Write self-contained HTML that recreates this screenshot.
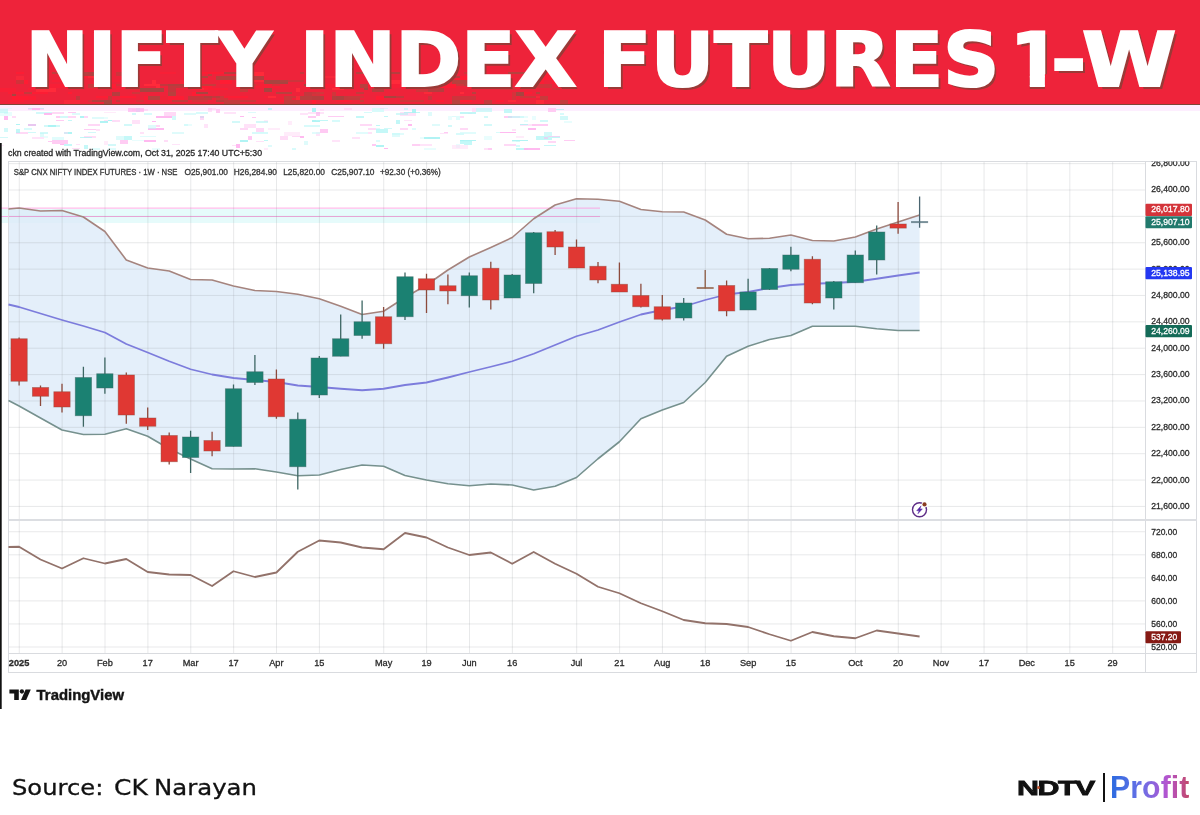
<!DOCTYPE html>
<html lang="en"><head><meta charset="utf-8"><title>NIFTY INDEX FUTURES 1-W</title>
<style>
html,body{margin:0;padding:0;background:#fff}
body{width:1200px;height:815px;position:relative;overflow:hidden;font-family:"Liberation Sans",sans-serif}
#banner{position:absolute;left:0;top:0;width:1200px;height:103.8px;background:#ee233a;border-bottom:1.6px solid #7e4436;box-shadow:0 6px 0 #fdeefe}
#title{position:absolute;left:0;top:0;width:1200px;height:104px;color:#fff;font-family:"DejaVu Sans","Liberation Sans",sans-serif;font-weight:bold;font-size:74px;line-height:74px;white-space:nowrap;text-shadow:2.8px 3px 0 #9a3a37}
#title span{position:absolute;top:23.3px;transform-origin:0 0;-webkit-text-stroke:2.2px #fff}
#w1{left:25.5px;transform:scaleX(1.005)}#w2{left:299.7px;transform:scaleX(1.068)}#w3{left:597.5px;transform:scaleX(1.05)}#w4{left:1010.1px;clip-path:polygon(0 0,37px 0,37px 51px,34.8px 51px,34.8px 100%,19.7px 100%,19.7px 51.5px,0 51.5px)}#w5{left:1051px;transform:scaleX(1.15)}#w6{left:1081.5px;transform:scaleX(1.155)}
#source{position:absolute;left:0;top:775.3px;width:300px;height:30px;font-family:"DejaVu Sans","Liberation Sans",sans-serif;font-size:21.3px;line-height:26px;color:#111;white-space:pre;-webkit-text-stroke:.3px #111}
#source span{position:absolute;top:0;transform-origin:0 0}
#s1{left:11.5px;transform:scaleX(1.137)}#s2{left:113.5px;transform:scaleX(1.17)}#s3{left:153.6px;transform:scaleX(1.145)}
#ndtv{position:absolute;left:1016.6px;top:775.7px;font-weight:bold;font-size:20.8px;line-height:24px;color:#111;transform-origin:0 0;transform:scaleX(1.46);letter-spacing:-1px;-webkit-text-stroke:.8px #111}
#dot{position:absolute;left:1037.2px;top:785.7px;width:3px;height:3px;border-radius:50%;background:#c4532c}
#sep{position:absolute;left:1102.5px;top:773px;width:2.4px;height:28.5px;background:#111}
#profit{position:absolute;left:1110.3px;top:770.4px;font-weight:bold;font-size:31.3px;line-height:36px;transform-origin:0 0;transform:scaleX(.965);background:linear-gradient(90deg,#2a6be0 0%,#6a70e6 40%,#b455d0 72%,#c2486a 100%);-webkit-background-clip:text;background-clip:text;color:transparent;letter-spacing:.1px}
</style></head><body>
<div id="banner"></div>
<svg width="1200" height="105" style="position:absolute;left:0;top:0" shape-rendering="crispEdges"><rect x="460" y="100" width="12" height="2" fill="#ff1c33" opacity="1"/><rect x="484" y="80" width="4" height="4" fill="#ff2a3a" opacity="0.6"/><rect x="92" y="72" width="16" height="4" fill="#b8403e" opacity="1"/><rect x="160" y="72" width="16" height="2" fill="#ff1c33" opacity="0.6"/><rect x="192" y="84" width="16" height="2" fill="#b8403e" opacity="0.8"/><rect x="448" y="84" width="16" height="2" fill="#c83a3c" opacity="0.8"/><rect x="508" y="72" width="24" height="2" fill="#b8403e" opacity="1"/><rect x="284" y="96" width="16" height="2" fill="#c83a3c" opacity="0.8"/><rect x="320" y="84" width="16" height="4" fill="#ff1c33" opacity="0.6"/><rect x="108" y="96" width="4" height="4" fill="#b8403e" opacity="0.6"/><rect x="16" y="72" width="8" height="2" fill="#ff1c33" opacity="0.8"/><rect x="384" y="96" width="12" height="2" fill="#a84440" opacity="1"/><rect x="200" y="88" width="8" height="2" fill="#ff2a3a" opacity="0.8"/><rect x="12" y="96" width="4" height="2" fill="#ff1c33" opacity="1"/><rect x="100" y="72" width="4" height="4" fill="#b8403e" opacity="0.6"/><rect x="192" y="100" width="16" height="2" fill="#c83a3c" opacity="0.6"/><rect x="428" y="96" width="4" height="4" fill="#b8403e" opacity="0.6"/><rect x="0" y="88" width="16" height="4" fill="#ff1c33" opacity="0.6"/><rect x="188" y="96" width="16" height="2" fill="#ff1c33" opacity="0.6"/><rect x="216" y="100" width="8" height="2" fill="#a84440" opacity="0.8"/><rect x="300" y="96" width="4" height="2" fill="#ff1c33" opacity="0.6"/><rect x="248" y="72" width="16" height="4" fill="#ff2a3a" opacity="1"/><rect x="464" y="80" width="16" height="4" fill="#a84440" opacity="0.6"/><rect x="392" y="80" width="24" height="2" fill="#ff2a3a" opacity="0.6"/><rect x="252" y="84" width="8" height="2" fill="#c83a3c" opacity="0.8"/><rect x="492" y="76" width="12" height="2" fill="#ff1c33" opacity="0.6"/><rect x="36" y="88" width="8" height="4" fill="#ff2a3a" opacity="0.8"/><rect x="500" y="88" width="16" height="2" fill="#c83a3c" opacity="0.6"/><rect x="128" y="84" width="12" height="2" fill="#ff2a3a" opacity="0.6"/><rect x="208" y="72" width="4" height="4" fill="#b8403e" opacity="0.8"/><rect x="252" y="72" width="4" height="2" fill="#ff2a3a" opacity="0.8"/><rect x="540" y="80" width="4" height="4" fill="#ff1c33" opacity="0.8"/><rect x="336" y="80" width="16" height="2" fill="#ff1c33" opacity="0.8"/><rect x="364" y="88" width="4" height="2" fill="#a84440" opacity="1"/><rect x="76" y="100" width="4" height="4" fill="#ff2a3a" opacity="0.6"/><rect x="72" y="76" width="12" height="4" fill="#c83a3c" opacity="0.6"/><rect x="132" y="92" width="8" height="2" fill="#c83a3c" opacity="0.8"/><rect x="76" y="96" width="4" height="4" fill="#a84440" opacity="0.6"/><rect x="388" y="96" width="16" height="2" fill="#a84440" opacity="0.6"/><rect x="80" y="76" width="24" height="2" fill="#ff2a3a" opacity="0.8"/><rect x="336" y="96" width="24" height="4" fill="#b8403e" opacity="0.8"/><rect x="552" y="76" width="16" height="2" fill="#ff2a3a" opacity="1"/><rect x="88" y="100" width="4" height="2" fill="#c83a3c" opacity="0.6"/><rect x="508" y="100" width="8" height="2" fill="#ff2a3a" opacity="0.8"/><rect x="144" y="84" width="16" height="2" fill="#ff2a3a" opacity="1"/><rect x="452" y="100" width="8" height="4" fill="#b8403e" opacity="1"/><rect x="256" y="84" width="24" height="4" fill="#ff1c33" opacity="0.6"/><rect x="392" y="84" width="16" height="4" fill="#ff1c33" opacity="0.6"/><rect x="136" y="100" width="8" height="2" fill="#c83a3c" opacity="0.6"/><rect x="280" y="80" width="4" height="4" fill="#b8403e" opacity="0.8"/><rect x="216" y="96" width="12" height="4" fill="#c83a3c" opacity="0.8"/><rect x="460" y="92" width="4" height="2" fill="#ff2a3a" opacity="1"/><rect x="40" y="88" width="16" height="4" fill="#ff2a3a" opacity="1"/><rect x="16" y="80" width="12" height="4" fill="#ff1c33" opacity="0.6"/><rect x="272" y="84" width="8" height="2" fill="#c83a3c" opacity="0.6"/><rect x="456" y="76" width="24" height="4" fill="#ff1c33" opacity="1"/><rect x="200" y="84" width="12" height="4" fill="#ff1c33" opacity="1"/><rect x="8" y="100" width="16" height="2" fill="#ff1c33" opacity="0.6"/><rect x="276" y="92" width="16" height="2" fill="#b8403e" opacity="1"/><rect x="228" y="76" width="12" height="4" fill="#ff1c33" opacity="0.8"/><rect x="464" y="84" width="24" height="2" fill="#b8403e" opacity="1"/><rect x="512" y="92" width="12" height="4" fill="#c83a3c" opacity="0.6"/><rect x="100" y="76" width="8" height="2" fill="#b8403e" opacity="0.6"/><rect x="316" y="92" width="8" height="2" fill="#ff2a3a" opacity="1"/><rect x="84" y="72" width="12" height="4" fill="#a84440" opacity="0.8"/><rect x="280" y="100" width="4" height="2" fill="#ff1c33" opacity="0.8"/><rect x="32" y="80" width="16" height="4" fill="#c83a3c" opacity="0.6"/><rect x="480" y="80" width="16" height="4" fill="#b8403e" opacity="1"/><rect x="88" y="84" width="12" height="4" fill="#c83a3c" opacity="1"/><rect x="168" y="88" width="8" height="4" fill="#a84440" opacity="0.6"/><rect x="308" y="80" width="16" height="4" fill="#a84440" opacity="0.8"/><rect x="204" y="96" width="16" height="2" fill="#a84440" opacity="0.6"/><rect x="384" y="72" width="16" height="2" fill="#a84440" opacity="0.8"/><rect x="556" y="76" width="12" height="2" fill="#c83a3c" opacity="0.6"/><rect x="64" y="100" width="12" height="4" fill="#ff2a3a" opacity="0.6"/><rect x="484" y="100" width="8" height="4" fill="#b8403e" opacity="0.8"/><rect x="536" y="92" width="4" height="2" fill="#b8403e" opacity="1"/><rect x="28" y="88" width="8" height="2" fill="#ff1c33" opacity="0.6"/><rect x="156" y="84" width="4" height="4" fill="#ff2a3a" opacity="1"/><rect x="360" y="84" width="16" height="4" fill="#ff1c33" opacity="0.8"/><rect x="124" y="88" width="24" height="2" fill="#c83a3c" opacity="1"/><rect x="444" y="72" width="12" height="4" fill="#a84440" opacity="1"/><rect x="160" y="84" width="24" height="2" fill="#a84440" opacity="0.6"/><rect x="552" y="80" width="8" height="4" fill="#ff1c33" opacity="0.8"/><rect x="320" y="84" width="8" height="2" fill="#ff1c33" opacity="0.6"/><rect x="244" y="80" width="24" height="2" fill="#ff2a3a" opacity="0.8"/><rect x="96" y="96" width="12" height="2" fill="#ff1c33" opacity="0.8"/><rect x="16" y="76" width="8" height="4" fill="#ff2a3a" opacity="0.6"/><rect x="516" y="92" width="16" height="2" fill="#ff1c33" opacity="0.8"/><rect x="108" y="72" width="4" height="4" fill="#ff1c33" opacity="0.6"/><rect x="188" y="76" width="8" height="2" fill="#ff1c33" opacity="0.8"/><rect x="96" y="72" width="8" height="4" fill="#ff1c33" opacity="0.6"/><rect x="332" y="96" width="12" height="4" fill="#a84440" opacity="0.8"/><rect x="440" y="84" width="16" height="4" fill="#ff1c33" opacity="1"/><rect x="40" y="84" width="8" height="4" fill="#b8403e" opacity="0.8"/><rect x="376" y="96" width="8" height="2" fill="#ff1c33" opacity="1"/><rect x="12" y="92" width="4" height="4" fill="#a84440" opacity="1"/><rect x="192" y="92" width="8" height="4" fill="#ff1c33" opacity="1"/><rect x="160" y="96" width="8" height="4" fill="#a84440" opacity="1"/><rect x="376" y="96" width="8" height="4" fill="#ff1c33" opacity="1"/><rect x="188" y="76" width="8" height="4" fill="#b8403e" opacity="0.6"/><rect x="8" y="92" width="24" height="2" fill="#ff1c33" opacity="0.8"/><rect x="304" y="92" width="8" height="4" fill="#a84440" opacity="0.6"/><rect x="544" y="76" width="12" height="4" fill="#c83a3c" opacity="0.6"/><rect x="120" y="96" width="16" height="2" fill="#ff1c33" opacity="1"/><rect x="108" y="84" width="8" height="4" fill="#b8403e" opacity="1"/><rect x="48" y="84" width="24" height="4" fill="#ff1c33" opacity="0.6"/><rect x="264" y="88" width="8" height="4" fill="#a84440" opacity="1"/><rect x="520" y="96" width="16" height="2" fill="#c83a3c" opacity="0.8"/><rect x="76" y="72" width="12" height="2" fill="#b8403e" opacity="0.8"/><rect x="172" y="100" width="16" height="2" fill="#b8403e" opacity="0.8"/><rect x="428" y="88" width="16" height="4" fill="#a84440" opacity="0.8"/><rect x="372" y="88" width="12" height="4" fill="#a84440" opacity="0.8"/><rect x="300" y="72" width="4" height="2" fill="#a84440" opacity="0.6"/><rect x="160" y="96" width="24" height="4" fill="#ff1c33" opacity="0.8"/><rect x="404" y="72" width="16" height="4" fill="#ff1c33" opacity="0.6"/><rect x="436" y="100" width="8" height="2" fill="#ff1c33" opacity="1"/><rect x="100" y="100" width="8" height="2" fill="#a84440" opacity="1"/><rect x="116" y="72" width="16" height="4" fill="#b8403e" opacity="0.6"/><rect x="208" y="72" width="8" height="2" fill="#ff1c33" opacity="0.8"/><rect x="452" y="80" width="24" height="4" fill="#b8403e" opacity="1"/><rect x="268" y="96" width="8" height="2" fill="#ff2a3a" opacity="1"/><rect x="128" y="84" width="12" height="2" fill="#a84440" opacity="0.8"/><rect x="516" y="92" width="8" height="4" fill="#a84440" opacity="1"/><rect x="192" y="88" width="8" height="2" fill="#ff1c33" opacity="1"/><rect x="200" y="72" width="24" height="2" fill="#ff1c33" opacity="0.8"/><rect x="264" y="96" width="4" height="2" fill="#ff1c33" opacity="0.6"/><rect x="552" y="88" width="4" height="2" fill="#c83a3c" opacity="0.6"/><rect x="560" y="84" width="15" height="4" fill="#b8403e" opacity="0.8"/><rect x="360" y="84" width="8" height="4" fill="#b8403e" opacity="1"/><rect x="136" y="76" width="4" height="4" fill="#a84440" opacity="0.6"/><rect x="452" y="96" width="24" height="4" fill="#b8403e" opacity="0.6"/><rect x="376" y="80" width="24" height="4" fill="#ff2a3a" opacity="1"/><rect x="188" y="96" width="24" height="4" fill="#a84440" opacity="0.6"/><rect x="472" y="92" width="4" height="2" fill="#b8403e" opacity="1"/><rect x="496" y="100" width="8" height="2" fill="#ff1c33" opacity="0.8"/><rect x="216" y="76" width="24" height="4" fill="#b8403e" opacity="1"/><rect x="332" y="88" width="8" height="2" fill="#ff2a3a" opacity="1"/><rect x="332" y="92" width="4" height="4" fill="#c83a3c" opacity="0.8"/><rect x="284" y="100" width="16" height="4" fill="#b8403e" opacity="0.8"/><rect x="224" y="96" width="24" height="2" fill="#ff1c33" opacity="0.8"/><rect x="372" y="72" width="8" height="4" fill="#a84440" opacity="0.8"/><rect x="196" y="92" width="12" height="2" fill="#a84440" opacity="1"/><rect x="180" y="80" width="4" height="4" fill="#ff2a3a" opacity="0.6"/><rect x="224" y="72" width="16" height="2" fill="#a84440" opacity="0.8"/><rect x="20" y="96" width="4" height="4" fill="#a84440" opacity="0.6"/><rect x="340" y="76" width="8" height="2" fill="#ff2a3a" opacity="0.6"/><rect x="24" y="80" width="4" height="4" fill="#ff1c33" opacity="1"/><rect x="224" y="100" width="16" height="4" fill="#b8403e" opacity="0.8"/><rect x="356" y="92" width="8" height="2" fill="#b8403e" opacity="0.8"/><rect x="548" y="76" width="24" height="2" fill="#b8403e" opacity="1"/><rect x="356" y="72" width="12" height="2" fill="#b8403e" opacity="1"/><rect x="24" y="92" width="24" height="2" fill="#ff1c33" opacity="0.8"/><rect x="428" y="80" width="8" height="2" fill="#c83a3c" opacity="0.8"/><rect x="168" y="92" width="8" height="4" fill="#b8403e" opacity="1"/><rect x="296" y="88" width="4" height="4" fill="#ff2a3a" opacity="1"/><rect x="116" y="88" width="24" height="2" fill="#ff1c33" opacity="0.6"/><rect x="468" y="72" width="16" height="4" fill="#ff1c33" opacity="0.8"/><rect x="108" y="84" width="8" height="4" fill="#ff1c33" opacity="1"/><rect x="240" y="100" width="16" height="2" fill="#b8403e" opacity="0.6"/><rect x="284" y="96" width="8" height="4" fill="#c83a3c" opacity="1"/><rect x="560" y="100" width="8" height="4" fill="#b8403e" opacity="0.8"/><rect x="560" y="76" width="12" height="2" fill="#b8403e" opacity="0.6"/><rect x="220" y="80" width="12" height="4" fill="#ff1c33" opacity="1"/><rect x="240" y="72" width="12" height="4" fill="#b8403e" opacity="0.6"/><rect x="428" y="80" width="12" height="2" fill="#ff2a3a" opacity="0.6"/><rect x="264" y="80" width="24" height="4" fill="#a84440" opacity="1"/><rect x="52" y="80" width="16" height="2" fill="#ff1c33" opacity="0.6"/><rect x="152" y="80" width="4" height="4" fill="#ff2a3a" opacity="1"/><rect x="540" y="76" width="12" height="4" fill="#ff1c33" opacity="1"/><rect x="556" y="88" width="4" height="2" fill="#b8403e" opacity="0.6"/><rect x="92" y="100" width="8" height="2" fill="#a84440" opacity="0.8"/><rect x="536" y="100" width="8" height="4" fill="#ff2a3a" opacity="0.8"/><rect x="412" y="76" width="16" height="4" fill="#b8403e" opacity="1"/><rect x="68" y="92" width="4" height="2" fill="#ff1c33" opacity="1"/><rect x="400" y="100" width="24" height="2" fill="#c83a3c" opacity="0.8"/><rect x="12" y="96" width="24" height="4" fill="#ff1c33" opacity="0.8"/><rect x="116" y="100" width="4" height="2" fill="#a84440" opacity="0.6"/><rect x="296" y="96" width="16" height="4" fill="#ff2a3a" opacity="0.8"/><rect x="568" y="76" width="7" height="2" fill="#ff1c33" opacity="0.8"/><rect x="112" y="92" width="8" height="4" fill="#a84440" opacity="0.8"/><rect x="336" y="100" width="12" height="2" fill="#ff1c33" opacity="0.6"/><rect x="96" y="80" width="24" height="2" fill="#ff1c33" opacity="0.6"/><rect x="408" y="72" width="12" height="2" fill="#ff1c33" opacity="0.6"/><rect x="32" y="80" width="4" height="4" fill="#b8403e" opacity="0.6"/><rect x="348" y="96" width="16" height="2" fill="#c83a3c" opacity="0.6"/><rect x="148" y="96" width="12" height="4" fill="#b8403e" opacity="1"/><rect x="12" y="96" width="16" height="4" fill="#ff1c33" opacity="1"/><rect x="540" y="72" width="8" height="4" fill="#ff1c33" opacity="0.8"/><rect x="312" y="100" width="4" height="4" fill="#ff1c33" opacity="1"/><rect x="340" y="88" width="4" height="2" fill="#ff2a3a" opacity="1"/><rect x="304" y="84" width="8" height="2" fill="#a84440" opacity="1"/><rect x="200" y="84" width="16" height="2" fill="#c83a3c" opacity="1"/><rect x="200" y="76" width="8" height="2" fill="#b8403e" opacity="1"/><rect x="424" y="92" width="8" height="2" fill="#ff2a3a" opacity="0.8"/><rect x="472" y="76" width="12" height="2" fill="#ff1c33" opacity="1"/><rect x="556" y="76" width="16" height="4" fill="#ff1c33" opacity="1"/><rect x="340" y="80" width="4" height="2" fill="#ff2a3a" opacity="1"/><rect x="372" y="84" width="16" height="4" fill="#ff1c33" opacity="0.6"/><rect x="560" y="76" width="12" height="2" fill="#b8403e" opacity="0.6"/><rect x="140" y="88" width="24" height="4" fill="#a84440" opacity="1"/><rect x="16" y="80" width="8" height="4" fill="#b8403e" opacity="0.6"/><rect x="144" y="96" width="4" height="4" fill="#ff1c33" opacity="0.8"/><rect x="532" y="80" width="8" height="2" fill="#a84440" opacity="0.8"/><rect x="52" y="72" width="24" height="2" fill="#b8403e" opacity="0.8"/><rect x="104" y="100" width="8" height="4" fill="#a84440" opacity="1"/><rect x="416" y="88" width="12" height="4" fill="#c83a3c" opacity="0.8"/><rect x="444" y="76" width="16" height="2" fill="#a84440" opacity="0.8"/><rect x="536" y="96" width="12" height="2" fill="#ff2a3a" opacity="0.6"/><rect x="300" y="96" width="24" height="4" fill="#a84440" opacity="0.8"/><rect x="312" y="76" width="8" height="2" fill="#b8403e" opacity="0.6"/><rect x="512" y="96" width="4" height="4" fill="#c83a3c" opacity="0.6"/><rect x="536" y="84" width="16" height="4" fill="#c83a3c" opacity="0.8"/><rect x="240" y="76" width="24" height="4" fill="#a84440" opacity="0.8"/><rect x="168" y="84" width="24" height="4" fill="#a84440" opacity="0.6"/><rect x="72" y="76" width="16" height="2" fill="#ff1c33" opacity="1"/><rect x="464" y="72" width="8" height="2" fill="#c83a3c" opacity="0.8"/><rect x="24" y="92" width="8" height="2" fill="#b8403e" opacity="0.8"/><rect x="540" y="96" width="8" height="4" fill="#c83a3c" opacity="1"/><rect x="236" y="72" width="8" height="2" fill="#b8403e" opacity="0.8"/><rect x="312" y="92" width="12" height="2" fill="#b8403e" opacity="0.6"/><rect x="204" y="88" width="24" height="2" fill="#ff1c33" opacity="0.8"/><rect x="360" y="100" width="4" height="2" fill="#c83a3c" opacity="1"/><rect x="204" y="84" width="8" height="2" fill="#c83a3c" opacity="0.6"/><rect x="312" y="92" width="8" height="4" fill="#c83a3c" opacity="0.6"/><rect x="340" y="100" width="12" height="2" fill="#ff1c33" opacity="0.6"/><rect x="312" y="76" width="24" height="2" fill="#ff2a3a" opacity="0.6"/><rect x="240" y="88" width="8" height="4" fill="#c83a3c" opacity="1"/><rect x="116" y="84" width="8" height="2" fill="#c83a3c" opacity="0.6"/><rect x="280" y="80" width="24" height="2" fill="#b8403e" opacity="0.6"/></svg>
<div id="title"><span id="w1">NIFTY</span> <span id="w2">INDEX</span> <span id="w3">FUTURES</span> <span id="w4">1</span><span id="w5">-</span><span id="w6">W</span></div>
<svg width="1200" height="815" viewBox="0 0 1200 815" style="position:absolute;left:0;top:0" font-family="'Liberation Sans', sans-serif">
<g id="glitch">
<rect x="0" y="209" width="600" height="14" fill="#e6fbfb"/>
</g>
<g id="glitchw" shape-rendering="crispEdges"><rect x="328" y="116" width="16" height="1" fill="#ffc6f2" opacity="0.9"/><rect x="96" y="129" width="4" height="2" fill="#ffc6f2" opacity="0.5"/><rect x="444" y="132" width="4" height="1" fill="#ffb3ee" opacity="0.7"/><rect x="60" y="144" width="4" height="1" fill="#ffb3ee" opacity="0.9"/><rect x="404" y="108" width="4" height="2" fill="#bff7f7" opacity="0.7"/><rect x="144" y="140" width="12" height="2" fill="#ffb3ee" opacity="0.9"/><rect x="184" y="113" width="12" height="2" fill="#bff7f7" opacity="0.5"/><rect x="560" y="113" width="4" height="2" fill="#d4fbfb" opacity="0.9"/><rect x="544" y="132" width="8" height="4" fill="#bff7f7" opacity="0.7"/><rect x="252" y="117" width="4" height="1" fill="#ffb3ee" opacity="0.7"/><rect x="536" y="136" width="16" height="4" fill="#bff7f7" opacity="0.9"/><rect x="72" y="113" width="8" height="2" fill="#bff7f7" opacity="0.5"/><rect x="500" y="132" width="16" height="1" fill="#ffb3ee" opacity="0.9"/><rect x="320" y="129" width="8" height="4" fill="#ffb3ee" opacity="0.7"/><rect x="68" y="112" width="8" height="1" fill="#ffc6f2" opacity="0.9"/><rect x="172" y="144" width="8" height="1" fill="#ffd9f6" opacity="0.7"/><rect x="132" y="120" width="8" height="4" fill="#ffc6f2" opacity="0.5"/><rect x="456" y="133" width="8" height="2" fill="#d4fbfb" opacity="0.9"/><rect x="284" y="132" width="16" height="4" fill="#ffd9f6" opacity="0.5"/><rect x="84" y="116" width="4" height="2" fill="#ffc6f2" opacity="0.7"/><rect x="184" y="124" width="4" height="2" fill="#d4fbfb" opacity="0.9"/><rect x="376" y="145" width="8" height="2" fill="#a8f3f3" opacity="0.9"/><rect x="52" y="137" width="12" height="4" fill="#d4fbfb" opacity="0.7"/><rect x="400" y="112" width="16" height="4" fill="#ffc6f2" opacity="0.5"/><rect x="68" y="120" width="4" height="1" fill="#bff7f7" opacity="0.9"/><rect x="52" y="112" width="12" height="2" fill="#ffb3ee" opacity="0.5"/><rect x="372" y="144" width="4" height="2" fill="#ffb3ee" opacity="0.7"/><rect x="152" y="148" width="8" height="2" fill="#d4fbfb" opacity="0.5"/><rect x="116" y="136" width="8" height="4" fill="#bff7f7" opacity="0.5"/><rect x="144" y="113" width="8" height="2" fill="#d4fbfb" opacity="0.9"/><rect x="164" y="140" width="4" height="2" fill="#ffd9f6" opacity="0.9"/><rect x="556" y="109" width="8" height="1" fill="#a8f3f3" opacity="0.7"/><rect x="528" y="128" width="8" height="2" fill="#ffb3ee" opacity="0.9"/><rect x="512" y="129" width="4" height="2" fill="#ffd9f6" opacity="0.7"/><rect x="232" y="121" width="8" height="2" fill="#a8f3f3" opacity="0.5"/><rect x="28" y="124" width="8" height="2" fill="#a8f3f3" opacity="0.9"/><rect x="352" y="137" width="8" height="2" fill="#ffc6f2" opacity="0.5"/><rect x="104" y="120" width="4" height="2" fill="#ffd9f6" opacity="0.7"/><rect x="0" y="137" width="8" height="1" fill="#a8f3f3" opacity="0.5"/><rect x="396" y="120" width="4" height="4" fill="#a8f3f3" opacity="0.7"/><rect x="88" y="132" width="8" height="1" fill="#a8f3f3" opacity="0.5"/><rect x="172" y="116" width="4" height="4" fill="#a8f3f3" opacity="0.5"/><rect x="484" y="148" width="4" height="2" fill="#ffc6f2" opacity="0.5"/><rect x="104" y="141" width="4" height="4" fill="#ffd9f6" opacity="0.5"/><rect x="28" y="124" width="8" height="2" fill="#ffb3ee" opacity="0.7"/><rect x="264" y="140" width="4" height="1" fill="#a8f3f3" opacity="0.7"/><rect x="132" y="140" width="12" height="1" fill="#d4fbfb" opacity="0.5"/><rect x="4" y="116" width="4" height="4" fill="#ffb3ee" opacity="0.9"/><rect x="120" y="140" width="8" height="4" fill="#ffc6f2" opacity="0.9"/><rect x="56" y="120" width="8" height="1" fill="#ffc6f2" opacity="0.9"/><rect x="460" y="140" width="4" height="4" fill="#bff7f7" opacity="0.9"/><rect x="516" y="145" width="4" height="2" fill="#d4fbfb" opacity="0.9"/><rect x="544" y="137" width="4" height="2" fill="#ffb3ee" opacity="0.5"/><rect x="456" y="116" width="4" height="4" fill="#d4fbfb" opacity="0.7"/><rect x="72" y="148" width="8" height="1" fill="#ffd9f6" opacity="0.9"/><rect x="308" y="112" width="16" height="2" fill="#ffd9f6" opacity="0.7"/><rect x="140" y="136" width="16" height="1" fill="#d4fbfb" opacity="0.7"/><rect x="412" y="128" width="4" height="2" fill="#bff7f7" opacity="0.5"/><rect x="372" y="108" width="12" height="4" fill="#d4fbfb" opacity="0.9"/><rect x="16" y="132" width="12" height="2" fill="#ffb3ee" opacity="0.5"/><rect x="112" y="120" width="4" height="2" fill="#bff7f7" opacity="0.5"/><rect x="184" y="124" width="8" height="2" fill="#d4fbfb" opacity="0.5"/><rect x="548" y="141" width="8" height="2" fill="#ffc6f2" opacity="0.7"/><rect x="56" y="116" width="4" height="2" fill="#ffc6f2" opacity="0.9"/><rect x="88" y="124" width="12" height="2" fill="#ffc6f2" opacity="0.7"/><rect x="124" y="136" width="8" height="4" fill="#bff7f7" opacity="0.9"/><rect x="132" y="109" width="16" height="2" fill="#ffc6f2" opacity="0.5"/><rect x="268" y="108" width="4" height="2" fill="#a8f3f3" opacity="0.7"/><rect x="540" y="120" width="8" height="2" fill="#bff7f7" opacity="0.7"/><rect x="16" y="124" width="4" height="1" fill="#a8f3f3" opacity="0.9"/><rect x="564" y="121" width="8" height="2" fill="#d4fbfb" opacity="0.5"/><rect x="312" y="120" width="8" height="2" fill="#a8f3f3" opacity="0.9"/><rect x="140" y="132" width="4" height="2" fill="#ffc6f2" opacity="0.5"/><rect x="260" y="132" width="4" height="1" fill="#a8f3f3" opacity="0.7"/><rect x="516" y="148" width="12" height="2" fill="#a8f3f3" opacity="0.7"/><rect x="44" y="136" width="4" height="2" fill="#d4fbfb" opacity="0.5"/><rect x="268" y="128" width="12" height="2" fill="#ffd9f6" opacity="0.5"/><rect x="316" y="120" width="4" height="1" fill="#bff7f7" opacity="0.7"/><rect x="84" y="136" width="12" height="2" fill="#ffd9f6" opacity="0.9"/><rect x="4" y="112" width="4" height="2" fill="#d4fbfb" opacity="0.9"/><rect x="40" y="132" width="8" height="2" fill="#a8f3f3" opacity="0.5"/><rect x="84" y="145" width="4" height="4" fill="#bff7f7" opacity="0.9"/><rect x="504" y="116" width="16" height="2" fill="#ffc6f2" opacity="0.9"/><rect x="524" y="148" width="16" height="2" fill="#ffb3ee" opacity="0.9"/><rect x="28" y="108" width="16" height="2" fill="#ffc6f2" opacity="0.7"/><rect x="460" y="140" width="16" height="1" fill="#a8f3f3" opacity="0.9"/><rect x="248" y="136" width="4" height="4" fill="#ffc6f2" opacity="0.9"/><rect x="512" y="140" width="16" height="1" fill="#a8f3f3" opacity="0.9"/><rect x="484" y="124" width="8" height="2" fill="#a8f3f3" opacity="0.5"/><rect x="488" y="148" width="4" height="2" fill="#ffc6f2" opacity="0.9"/><rect x="148" y="128" width="16" height="2" fill="#ffb3ee" opacity="0.9"/><rect x="136" y="108" width="4" height="4" fill="#bff7f7" opacity="0.9"/><rect x="100" y="121" width="8" height="2" fill="#a8f3f3" opacity="0.9"/><rect x="292" y="136" width="8" height="1" fill="#ffb3ee" opacity="0.5"/><rect x="316" y="112" width="4" height="2" fill="#d4fbfb" opacity="0.5"/><rect x="516" y="136" width="8" height="2" fill="#ffd9f6" opacity="0.5"/><rect x="92" y="117" width="12" height="2" fill="#bff7f7" opacity="0.5"/><rect x="520" y="124" width="16" height="2" fill="#ffd9f6" opacity="0.7"/><rect x="496" y="132" width="4" height="1" fill="#d4fbfb" opacity="0.9"/><rect x="460" y="132" width="16" height="2" fill="#d4fbfb" opacity="0.7"/><rect x="384" y="128" width="8" height="1" fill="#bff7f7" opacity="0.7"/><rect x="404" y="112" width="16" height="1" fill="#a8f3f3" opacity="0.7"/><rect x="256" y="128" width="8" height="4" fill="#ffb3ee" opacity="0.5"/><rect x="368" y="132" width="4" height="2" fill="#ffc6f2" opacity="0.5"/><rect x="292" y="148" width="4" height="2" fill="#d4fbfb" opacity="0.9"/><rect x="320" y="120" width="8" height="1" fill="#a8f3f3" opacity="0.7"/><rect x="564" y="140" width="11" height="1" fill="#ffc6f2" opacity="0.9"/><rect x="420" y="137" width="4" height="2" fill="#d4fbfb" opacity="0.5"/><rect x="560" y="116" width="8" height="4" fill="#bff7f7" opacity="0.7"/><rect x="304" y="125" width="16" height="2" fill="#d4fbfb" opacity="0.9"/><rect x="244" y="124" width="12" height="4" fill="#ffc6f2" opacity="0.5"/><rect x="164" y="112" width="12" height="4" fill="#ffb3ee" opacity="0.5"/><rect x="460" y="128" width="8" height="2" fill="#ffb3ee" opacity="0.5"/><rect x="248" y="112" width="8" height="1" fill="#bff7f7" opacity="0.5"/><rect x="376" y="125" width="4" height="1" fill="#a8f3f3" opacity="0.7"/><rect x="392" y="133" width="12" height="2" fill="#d4fbfb" opacity="0.7"/><rect x="344" y="108" width="8" height="2" fill="#ffd9f6" opacity="0.9"/><rect x="512" y="141" width="4" height="1" fill="#bff7f7" opacity="0.5"/><rect x="392" y="133" width="8" height="4" fill="#bff7f7" opacity="0.5"/><rect x="128" y="108" width="16" height="4" fill="#ffb3ee" opacity="0.7"/><rect x="0" y="112" width="12" height="4" fill="#d4fbfb" opacity="0.5"/><rect x="108" y="120" width="4" height="1" fill="#a8f3f3" opacity="0.9"/><rect x="468" y="113" width="4" height="1" fill="#ffd9f6" opacity="0.5"/><rect x="256" y="141" width="8" height="1" fill="#ffc6f2" opacity="0.5"/><rect x="304" y="141" width="4" height="4" fill="#bff7f7" opacity="0.5"/><rect x="0" y="109" width="8" height="4" fill="#bff7f7" opacity="0.7"/><rect x="248" y="137" width="4" height="2" fill="#ffc6f2" opacity="0.7"/><rect x="312" y="108" width="4" height="4" fill="#a8f3f3" opacity="0.9"/><rect x="428" y="112" width="4" height="4" fill="#bff7f7" opacity="0.5"/><rect x="504" y="109" width="8" height="4" fill="#bff7f7" opacity="0.9"/><rect x="404" y="120" width="8" height="1" fill="#ffd9f6" opacity="0.7"/><rect x="204" y="124" width="4" height="4" fill="#ffd9f6" opacity="0.7"/><rect x="300" y="113" width="8" height="2" fill="#ffd9f6" opacity="0.7"/><rect x="424" y="148" width="12" height="2" fill="#d4fbfb" opacity="0.5"/><rect x="216" y="109" width="4" height="4" fill="#ffc6f2" opacity="0.9"/><rect x="60" y="116" width="8" height="2" fill="#a8f3f3" opacity="0.5"/><rect x="80" y="116" width="4" height="2" fill="#a8f3f3" opacity="0.9"/><rect x="476" y="108" width="16" height="4" fill="#bff7f7" opacity="0.7"/><rect x="452" y="116" width="4" height="1" fill="#bff7f7" opacity="0.5"/><rect x="356" y="132" width="12" height="2" fill="#d4fbfb" opacity="0.7"/><rect x="316" y="132" width="4" height="4" fill="#ffd9f6" opacity="0.7"/><rect x="552" y="136" width="8" height="2" fill="#a8f3f3" opacity="0.7"/><rect x="384" y="108" width="4" height="1" fill="#bff7f7" opacity="0.5"/><rect x="64" y="144" width="8" height="2" fill="#bff7f7" opacity="0.9"/><rect x="44" y="125" width="16" height="2" fill="#bff7f7" opacity="0.7"/><rect x="0" y="145" width="4" height="1" fill="#ffd9f6" opacity="0.5"/><rect x="484" y="136" width="8" height="4" fill="#d4fbfb" opacity="0.5"/><rect x="508" y="116" width="16" height="2" fill="#a8f3f3" opacity="0.5"/><rect x="240" y="128" width="8" height="2" fill="#ffb3ee" opacity="0.5"/><rect x="524" y="120" width="4" height="2" fill="#d4fbfb" opacity="0.5"/><rect x="32" y="137" width="12" height="2" fill="#ffd9f6" opacity="0.7"/><rect x="104" y="112" width="12" height="1" fill="#ffd9f6" opacity="0.5"/><rect x="428" y="137" width="8" height="2" fill="#ffd9f6" opacity="0.5"/><rect x="424" y="137" width="16" height="2" fill="#a8f3f3" opacity="0.9"/><rect x="124" y="124" width="8" height="2" fill="#bff7f7" opacity="0.7"/><rect x="264" y="120" width="4" height="2" fill="#ffd9f6" opacity="0.5"/><rect x="156" y="125" width="4" height="2" fill="#ffc6f2" opacity="0.7"/><rect x="256" y="121" width="12" height="2" fill="#a8f3f3" opacity="0.5"/><rect x="472" y="108" width="4" height="4" fill="#ffd9f6" opacity="0.7"/><rect x="380" y="108" width="4" height="1" fill="#ffc6f2" opacity="0.5"/><rect x="196" y="112" width="12" height="2" fill="#d4fbfb" opacity="0.9"/><rect x="264" y="148" width="4" height="2" fill="#ffd9f6" opacity="0.5"/><rect x="376" y="128" width="4" height="2" fill="#bff7f7" opacity="0.5"/><rect x="208" y="108" width="8" height="2" fill="#ffd9f6" opacity="0.9"/><rect x="316" y="112" width="4" height="4" fill="#ffb3ee" opacity="0.7"/><rect x="64" y="132" width="8" height="2" fill="#a8f3f3" opacity="0.9"/><rect x="92" y="148" width="8" height="2" fill="#d4fbfb" opacity="0.7"/><rect x="312" y="132" width="8" height="2" fill="#d4fbfb" opacity="0.7"/><rect x="16" y="129" width="4" height="4" fill="#a8f3f3" opacity="0.7"/><rect x="208" y="108" width="4" height="4" fill="#ffc6f2" opacity="0.5"/><rect x="412" y="144" width="8" height="2" fill="#ffd9f6" opacity="0.5"/><rect x="52" y="140" width="16" height="4" fill="#ffc6f2" opacity="0.9"/><rect x="376" y="140" width="4" height="2" fill="#bff7f7" opacity="0.5"/><rect x="532" y="116" width="4" height="4" fill="#d4fbfb" opacity="0.5"/><rect x="308" y="116" width="8" height="2" fill="#ffc6f2" opacity="0.9"/><rect x="396" y="113" width="12" height="2" fill="#a8f3f3" opacity="0.5"/><rect x="412" y="144" width="8" height="2" fill="#ffb3ee" opacity="0.5"/><rect x="40" y="133" width="4" height="4" fill="#bff7f7" opacity="0.5"/><rect x="152" y="121" width="4" height="1" fill="#ffb3ee" opacity="0.9"/><rect x="464" y="141" width="8" height="4" fill="#bff7f7" opacity="0.9"/><rect x="252" y="132" width="16" height="2" fill="#d4fbfb" opacity="0.9"/><rect x="448" y="116" width="4" height="4" fill="#d4fbfb" opacity="0.5"/><rect x="456" y="144" width="4" height="4" fill="#d4fbfb" opacity="0.5"/><rect x="68" y="116" width="8" height="2" fill="#ffc6f2" opacity="0.7"/><rect x="516" y="141" width="4" height="1" fill="#a8f3f3" opacity="0.5"/><rect x="84" y="129" width="12" height="1" fill="#ffc6f2" opacity="0.9"/><rect x="384" y="148" width="4" height="1" fill="#ffb3ee" opacity="0.9"/><rect x="112" y="120" width="8" height="2" fill="#ffd9f6" opacity="0.9"/><rect x="224" y="112" width="12" height="2" fill="#ffd9f6" opacity="0.7"/><rect x="280" y="136" width="8" height="4" fill="#ffd9f6" opacity="0.9"/><rect x="268" y="145" width="4" height="2" fill="#bff7f7" opacity="0.5"/><rect x="200" y="116" width="4" height="2" fill="#a8f3f3" opacity="0.7"/><rect x="384" y="116" width="4" height="1" fill="#a8f3f3" opacity="0.7"/><rect x="460" y="141" width="12" height="1" fill="#bff7f7" opacity="0.9"/><rect x="400" y="128" width="8" height="2" fill="#ffb3ee" opacity="0.5"/><rect x="368" y="128" width="8" height="2" fill="#ffd9f6" opacity="0.9"/><rect x="48" y="125" width="8" height="2" fill="#a8f3f3" opacity="0.9"/><rect x="320" y="109" width="4" height="2" fill="#ffd9f6" opacity="0.7"/><rect x="440" y="133" width="8" height="1" fill="#ffd9f6" opacity="0.7"/><rect x="232" y="145" width="4" height="1" fill="#ffc6f2" opacity="0.5"/><rect x="360" y="124" width="12" height="2" fill="#ffb3ee" opacity="0.5"/><rect x="420" y="144" width="12" height="2" fill="#ffd9f6" opacity="0.7"/><rect x="484" y="116" width="4" height="2" fill="#a8f3f3" opacity="0.5"/><rect x="460" y="112" width="16" height="2" fill="#a8f3f3" opacity="0.7"/><rect x="408" y="124" width="4" height="2" fill="#ffb3ee" opacity="0.9"/><rect x="452" y="145" width="16" height="4" fill="#ffd9f6" opacity="0.5"/><rect x="0" y="108" width="12" height="1" fill="#d4fbfb" opacity="0.5"/><rect x="240" y="116" width="4" height="1" fill="#ffb3ee" opacity="0.9"/><rect x="200" y="116" width="4" height="4" fill="#ffb3ee" opacity="0.5"/><rect x="520" y="124" width="8" height="1" fill="#a8f3f3" opacity="0.7"/><rect x="548" y="108" width="8" height="4" fill="#ffc6f2" opacity="0.9"/><rect x="460" y="116" width="4" height="2" fill="#ffd9f6" opacity="0.9"/><rect x="36" y="112" width="16" height="2" fill="#a8f3f3" opacity="0.5"/><rect x="532" y="124" width="16" height="2" fill="#ffc6f2" opacity="0.9"/><rect x="12" y="116" width="4" height="2" fill="#ffd9f6" opacity="0.9"/><rect x="332" y="120" width="8" height="2" fill="#d4fbfb" opacity="0.9"/><rect x="548" y="136" width="12" height="1" fill="#ffc6f2" opacity="0.7"/><rect x="236" y="144" width="4" height="4" fill="#ffb3ee" opacity="0.9"/><rect x="76" y="144" width="4" height="1" fill="#ffc6f2" opacity="0.5"/><rect x="108" y="144" width="8" height="2" fill="#a8f3f3" opacity="0.5"/><rect x="28" y="108" width="16" height="1" fill="#a8f3f3" opacity="0.5"/><rect x="44" y="113" width="8" height="2" fill="#ffb3ee" opacity="0.9"/><rect x="64" y="132" width="4" height="2" fill="#ffd9f6" opacity="0.5"/><rect x="32" y="109" width="4" height="2" fill="#d4fbfb" opacity="0.5"/><rect x="132" y="113" width="4" height="2" fill="#bff7f7" opacity="0.7"/><rect x="432" y="124" width="8" height="2" fill="#bff7f7" opacity="0.5"/><rect x="376" y="129" width="12" height="4" fill="#bff7f7" opacity="0.9"/><rect x="28" y="132" width="8" height="1" fill="#bff7f7" opacity="0.7"/><rect x="48" y="141" width="4" height="1" fill="#ffb3ee" opacity="0.7"/><rect x="172" y="132" width="12" height="2" fill="#bff7f7" opacity="0.5"/><rect x="4" y="128" width="4" height="4" fill="#a8f3f3" opacity="0.5"/><rect x="504" y="144" width="12" height="2" fill="#ffb3ee" opacity="0.5"/><rect x="288" y="121" width="4" height="4" fill="#ffd9f6" opacity="0.5"/><rect x="80" y="137" width="12" height="1" fill="#a8f3f3" opacity="0.7"/><rect x="364" y="112" width="8" height="1" fill="#d4fbfb" opacity="0.9"/><rect x="24" y="128" width="8" height="2" fill="#d4fbfb" opacity="0.9"/><rect x="512" y="116" width="16" height="2" fill="#d4fbfb" opacity="0.5"/><rect x="544" y="145" width="12" height="1" fill="#bff7f7" opacity="0.9"/><rect x="332" y="140" width="8" height="2" fill="#ffd9f6" opacity="0.7"/><rect x="448" y="125" width="4" height="2" fill="#bff7f7" opacity="0.7"/><rect x="240" y="140" width="8" height="2" fill="#a8f3f3" opacity="0.9"/><rect x="156" y="116" width="16" height="2" fill="#ffb3ee" opacity="0.9"/><rect x="356" y="116" width="8" height="2" fill="#bff7f7" opacity="0.9"/><rect x="104" y="117" width="4" height="2" fill="#d4fbfb" opacity="0.5"/><rect x="148" y="125" width="8" height="4" fill="#bff7f7" opacity="0.5"/><rect x="108" y="148" width="8" height="2" fill="#d4fbfb" opacity="0.7"/><rect x="32" y="108" width="8" height="2" fill="#ffb3ee" opacity="0.9"/><rect x="300" y="136" width="4" height="2" fill="#ffb3ee" opacity="0.9"/><rect x="412" y="109" width="4" height="4" fill="#a8f3f3" opacity="0.9"/></g>
<polygon points="8.5,209.00 19.1,208.00 40.5,211.00 62.0,210.50 83.4,217.00 104.9,231.50 126.3,260.00 147.7,268.00 169.2,271.00 190.6,279.50 212.1,280.00 233.5,286.00 254.9,290.50 276.4,291.50 297.8,294.25 319.3,298.75 340.7,306.25 362.1,314.50 383.6,311.25 405.0,297.50 426.5,285.00 447.9,270.00 469.3,257.00 490.8,247.50 512.2,237.50 533.7,218.75 555.1,205.00 576.5,198.75 598.0,199.25 619.4,201.25 640.9,209.50 662.3,211.75 683.7,212.00 705.2,220.00 726.6,234.25 748.1,238.75 769.5,238.25 790.9,235.00 812.4,240.50 833.8,241.00 855.3,237.00 876.7,229.00 898.1,222.00 919.6,215.00 919.6,330.50 898.1,330.50 876.7,328.75 855.3,326.25 833.8,326.25 812.4,326.25 790.9,335.50 769.5,339.50 748.1,346.25 726.6,356.25 705.2,382.50 683.7,402.50 662.3,410.00 640.9,418.75 619.4,441.75 598.0,458.75 576.5,477.50 555.1,486.25 533.7,490.00 512.2,485.00 490.8,484.00 469.3,485.75 447.9,483.75 426.5,480.00 405.0,475.50 383.6,466.25 362.1,465.00 340.7,469.50 319.3,475.00 297.8,475.75 276.4,472.00 254.9,468.75 233.5,469.00 212.1,468.75 190.6,459.00 169.2,448.75 147.7,436.25 126.3,428.75 104.9,434.25 83.4,434.50 62.0,430.00 40.5,418.00 19.1,406.00 8.5,400.50" fill="#dcebf8" fill-opacity=".78"/>
<rect x="0" y="207.6" width="600" height="1" fill="#ff8fdc" opacity=".75"/><rect x="0" y="216" width="600" height="1" fill="#ff8fdc" opacity=".75"/>
<g stroke="#8c9098" stroke-opacity=".2" stroke-width="1">
<line x1="19.25" y1="161.5" x2="19.25" y2="653"/>
<line x1="62.13" y1="161.5" x2="62.13" y2="653"/>
<line x1="105.01" y1="161.5" x2="105.01" y2="653"/>
<line x1="147.89" y1="161.5" x2="147.89" y2="653"/>
<line x1="190.77" y1="161.5" x2="190.77" y2="653"/>
<line x1="233.65" y1="161.5" x2="233.65" y2="653"/>
<line x1="276.53" y1="161.5" x2="276.53" y2="653"/>
<line x1="319.41" y1="161.5" x2="319.41" y2="653"/>
<line x1="383.73" y1="161.5" x2="383.73" y2="653"/>
<line x1="426.61" y1="161.5" x2="426.61" y2="653"/>
<line x1="469.49" y1="161.5" x2="469.49" y2="653"/>
<line x1="512.37" y1="161.5" x2="512.37" y2="653"/>
<line x1="576.69" y1="161.5" x2="576.69" y2="653"/>
<line x1="619.57" y1="161.5" x2="619.57" y2="653"/>
<line x1="662.45" y1="161.5" x2="662.45" y2="653"/>
<line x1="705.33" y1="161.5" x2="705.33" y2="653"/>
<line x1="748.21" y1="161.5" x2="748.21" y2="653"/>
<line x1="791.09" y1="161.5" x2="791.09" y2="653"/>
<line x1="855.41" y1="161.5" x2="855.41" y2="653"/>
<line x1="898.29" y1="161.5" x2="898.29" y2="653"/>
<line x1="941.17" y1="161.5" x2="941.17" y2="653"/>
<line x1="984.05" y1="161.5" x2="984.05" y2="653"/>
<line x1="1026.93" y1="161.5" x2="1026.93" y2="653"/>
<line x1="1069.81" y1="161.5" x2="1069.81" y2="653"/>
<line x1="1112.69" y1="161.5" x2="1112.69" y2="653"/>
<line x1="8.5" y1="163.63" x2="1145.5" y2="163.63"/>
<line x1="8.5" y1="190.0" x2="1145.5" y2="190.0"/>
<line x1="8.5" y1="216.37" x2="1145.5" y2="216.37"/>
<line x1="8.5" y1="242.74" x2="1145.5" y2="242.74"/>
<line x1="8.5" y1="269.11" x2="1145.5" y2="269.11"/>
<line x1="8.5" y1="295.48" x2="1145.5" y2="295.48"/>
<line x1="8.5" y1="321.85" x2="1145.5" y2="321.85"/>
<line x1="8.5" y1="348.22" x2="1145.5" y2="348.22"/>
<line x1="8.5" y1="374.59" x2="1145.5" y2="374.59"/>
<line x1="8.5" y1="400.96" x2="1145.5" y2="400.96"/>
<line x1="8.5" y1="427.33" x2="1145.5" y2="427.33"/>
<line x1="8.5" y1="453.7" x2="1145.5" y2="453.7"/>
<line x1="8.5" y1="480.07" x2="1145.5" y2="480.07"/>
<line x1="8.5" y1="506.44" x2="1145.5" y2="506.44"/>
<line x1="8.5" y1="531.75" x2="1145.5" y2="531.75"/>
<line x1="8.5" y1="554.8" x2="1145.5" y2="554.8"/>
<line x1="8.5" y1="577.85" x2="1145.5" y2="577.85"/>
<line x1="8.5" y1="600.9" x2="1145.5" y2="600.9"/>
<line x1="8.5" y1="623.95" x2="1145.5" y2="623.95"/>
<line x1="8.5" y1="647.0" x2="1145.5" y2="647.0"/>
</g>
<g stroke="#d9dbdf" stroke-width="1" fill="none" shape-rendering="crispEdges">
<rect x="8.5" y="161.5" width="1188.0" height="511.0"/>
<line x1="1145.5" y1="161.5" x2="1145.5" y2="672.5"/>
<line x1="8.5" y1="653" x2="1196.5" y2="653"/>
<line x1="8.5" y1="519.5" x2="1196.5" y2="519.5" stroke-width="2" stroke="#dcdee2"/>
</g>
<polyline points="8.5,209.00 19.1,208.00 40.5,211.00 62.0,210.50 83.4,217.00 104.9,231.50 126.3,260.00 147.7,268.00 169.2,271.00 190.6,279.50 212.1,280.00 233.5,286.00 254.9,290.50 276.4,291.50 297.8,294.25 319.3,298.75 340.7,306.25 362.1,314.50 383.6,311.25 405.0,297.50 426.5,285.00 447.9,270.00 469.3,257.00 490.8,247.50 512.2,237.50 533.7,218.75 555.1,205.00 576.5,198.75 598.0,199.25 619.4,201.25 640.9,209.50 662.3,211.75 683.7,212.00 705.2,220.00 726.6,234.25 748.1,238.75 769.5,238.25 790.9,235.00 812.4,240.50 833.8,241.00 855.3,237.00 876.7,229.00 898.1,222.00 919.6,215.00" fill="none" stroke="#a5847e" stroke-width="1.6" stroke-linejoin="round"/>
<polyline points="8.5,400.50 19.1,406.00 40.5,418.00 62.0,430.00 83.4,434.50 104.9,434.25 126.3,428.75 147.7,436.25 169.2,448.75 190.6,459.00 212.1,468.75 233.5,469.00 254.9,468.75 276.4,472.00 297.8,475.75 319.3,475.00 340.7,469.50 362.1,465.00 383.6,466.25 405.0,475.50 426.5,480.00 447.9,483.75 469.3,485.75 490.8,484.00 512.2,485.00 533.7,490.00 555.1,486.25 576.5,477.50 598.0,458.75 619.4,441.75 640.9,418.75 662.3,410.00 683.7,402.50 705.2,382.50 726.6,356.25 748.1,346.25 769.5,339.50 790.9,335.50 812.4,326.25 833.8,326.25 855.3,326.25 876.7,328.75 898.1,330.50 919.6,330.50" fill="none" stroke="#76918e" stroke-width="1.6" stroke-linejoin="round"/>
<polyline points="8.5,304.50 19.1,307.00 40.5,313.50 62.0,320.00 83.4,326.00 104.9,332.50 126.3,344.00 147.7,352.50 169.2,361.25 190.6,369.25 212.1,374.50 233.5,378.00 254.9,380.00 276.4,382.00 297.8,385.50 319.3,387.00 340.7,388.75 362.1,390.25 383.6,388.75 405.0,385.00 426.5,382.50 447.9,377.50 469.3,372.00 490.8,366.75 512.2,361.25 533.7,353.75 555.1,345.00 576.5,336.25 598.0,330.00 619.4,322.00 640.9,314.50 662.3,310.00 683.7,306.50 705.2,300.00 726.6,294.50 748.1,292.00 769.5,288.00 790.9,285.00 812.4,283.75 833.8,283.00 855.3,281.75 876.7,278.75 898.1,275.50 919.6,272.50" fill="none" stroke="#7c7cdc" stroke-width="1.8" stroke-linejoin="round"/>
<line x1="19.1" y1="337.5" x2="19.1" y2="385.5" stroke="#8c4a3c" stroke-width="1.3"/>
<rect x="10.95" y="338.75" width="16.3" height="42.50" fill="#e03833" stroke="#8c4a3c" stroke-opacity=".55" stroke-width=".8"/>
<line x1="40.5" y1="385.5" x2="40.5" y2="406" stroke="#8c4a3c" stroke-width="1.3"/>
<rect x="32.39" y="387.5" width="16.3" height="8.75" fill="#e03833" stroke="#8c4a3c" stroke-opacity=".55" stroke-width=".8"/>
<line x1="62.0" y1="383.75" x2="62.0" y2="412.5" stroke="#8c4a3c" stroke-width="1.3"/>
<rect x="53.83" y="391.75" width="16.3" height="15.25" fill="#e03833" stroke="#8c4a3c" stroke-opacity=".55" stroke-width=".8"/>
<line x1="83.4" y1="366.75" x2="83.4" y2="426.75" stroke="#3d6663" stroke-width="1.3"/>
<rect x="75.27" y="377.5" width="16.3" height="38.25" fill="#1b8172" stroke="#3d6663" stroke-opacity=".55" stroke-width=".8"/>
<line x1="104.9" y1="357.5" x2="104.9" y2="393.75" stroke="#3d6663" stroke-width="1.3"/>
<rect x="96.71" y="373.75" width="16.3" height="14.25" fill="#1b8172" stroke="#3d6663" stroke-opacity=".55" stroke-width=".8"/>
<line x1="126.3" y1="372.5" x2="126.3" y2="423.75" stroke="#8c4a3c" stroke-width="1.3"/>
<rect x="118.15" y="375" width="16.3" height="40.00" fill="#e03833" stroke="#8c4a3c" stroke-opacity=".55" stroke-width=".8"/>
<line x1="147.7" y1="407.5" x2="147.7" y2="430" stroke="#8c4a3c" stroke-width="1.3"/>
<rect x="139.59" y="418" width="16.3" height="8.25" fill="#e03833" stroke="#8c4a3c" stroke-opacity=".55" stroke-width=".8"/>
<line x1="169.2" y1="432.5" x2="169.2" y2="464.5" stroke="#8c4a3c" stroke-width="1.3"/>
<rect x="161.03" y="435.5" width="16.3" height="26.25" fill="#e03833" stroke="#8c4a3c" stroke-opacity=".55" stroke-width=".8"/>
<line x1="190.6" y1="430.75" x2="190.6" y2="473" stroke="#3d6663" stroke-width="1.3"/>
<rect x="182.47" y="437" width="16.3" height="20.50" fill="#1b8172" stroke="#3d6663" stroke-opacity=".55" stroke-width=".8"/>
<line x1="212.1" y1="431.75" x2="212.1" y2="456.25" stroke="#8c4a3c" stroke-width="1.3"/>
<rect x="203.91" y="440.5" width="16.3" height="10.50" fill="#e03833" stroke="#8c4a3c" stroke-opacity=".55" stroke-width=".8"/>
<line x1="233.5" y1="384.5" x2="233.5" y2="446.5" stroke="#3d6663" stroke-width="1.3"/>
<rect x="225.35" y="388.75" width="16.3" height="57.75" fill="#1b8172" stroke="#3d6663" stroke-opacity=".55" stroke-width=".8"/>
<line x1="254.9" y1="355" x2="254.9" y2="385" stroke="#3d6663" stroke-width="1.3"/>
<rect x="246.79" y="371.75" width="16.3" height="10.75" fill="#1b8172" stroke="#3d6663" stroke-opacity=".55" stroke-width=".8"/>
<line x1="276.4" y1="369.5" x2="276.4" y2="418.75" stroke="#8c4a3c" stroke-width="1.3"/>
<rect x="268.23" y="379" width="16.3" height="37.75" fill="#e03833" stroke="#8c4a3c" stroke-opacity=".55" stroke-width=".8"/>
<line x1="297.8" y1="412.5" x2="297.8" y2="489.5" stroke="#3d6663" stroke-width="1.3"/>
<rect x="289.67" y="419.25" width="16.3" height="47.50" fill="#1b8172" stroke="#3d6663" stroke-opacity=".55" stroke-width=".8"/>
<line x1="319.3" y1="356" x2="319.3" y2="398" stroke="#3d6663" stroke-width="1.3"/>
<rect x="311.11" y="358" width="16.3" height="37.00" fill="#1b8172" stroke="#3d6663" stroke-opacity=".55" stroke-width=".8"/>
<line x1="340.7" y1="314.5" x2="340.7" y2="356.25" stroke="#3d6663" stroke-width="1.3"/>
<rect x="332.55" y="338.75" width="16.3" height="17.50" fill="#1b8172" stroke="#3d6663" stroke-opacity=".55" stroke-width=".8"/>
<line x1="362.1" y1="300.5" x2="362.1" y2="338.75" stroke="#3d6663" stroke-width="1.3"/>
<rect x="353.99" y="321.75" width="16.3" height="13.75" fill="#1b8172" stroke="#3d6663" stroke-opacity=".55" stroke-width=".8"/>
<line x1="383.6" y1="307" x2="383.6" y2="348.75" stroke="#8c4a3c" stroke-width="1.3"/>
<rect x="375.43" y="316.75" width="16.3" height="27.00" fill="#e03833" stroke="#8c4a3c" stroke-opacity=".55" stroke-width=".8"/>
<line x1="405.0" y1="272.5" x2="405.0" y2="320" stroke="#3d6663" stroke-width="1.3"/>
<rect x="396.87" y="276.75" width="16.3" height="40.00" fill="#1b8172" stroke="#3d6663" stroke-opacity=".55" stroke-width=".8"/>
<line x1="426.5" y1="273.75" x2="426.5" y2="313" stroke="#8c4a3c" stroke-width="1.3"/>
<rect x="418.31" y="278.75" width="16.3" height="11.25" fill="#e03833" stroke="#8c4a3c" stroke-opacity=".55" stroke-width=".8"/>
<line x1="447.9" y1="274.5" x2="447.9" y2="304.25" stroke="#8c4a3c" stroke-width="1.3"/>
<rect x="439.75" y="285.75" width="16.3" height="5.25" fill="#e03833" stroke="#8c4a3c" stroke-opacity=".55" stroke-width=".8"/>
<line x1="469.3" y1="272.5" x2="469.3" y2="307.5" stroke="#3d6663" stroke-width="1.3"/>
<rect x="461.19" y="275.75" width="16.3" height="20.00" fill="#1b8172" stroke="#3d6663" stroke-opacity=".55" stroke-width=".8"/>
<line x1="490.8" y1="261.75" x2="490.8" y2="309.5" stroke="#8c4a3c" stroke-width="1.3"/>
<rect x="482.63" y="268.25" width="16.3" height="31.75" fill="#e03833" stroke="#8c4a3c" stroke-opacity=".55" stroke-width=".8"/>
<line x1="512.2" y1="274" x2="512.2" y2="298" stroke="#3d6663" stroke-width="1.3"/>
<rect x="504.07" y="275" width="16.3" height="23.00" fill="#1b8172" stroke="#3d6663" stroke-opacity=".55" stroke-width=".8"/>
<line x1="533.7" y1="232" x2="533.7" y2="293.25" stroke="#3d6663" stroke-width="1.3"/>
<rect x="525.51" y="232.75" width="16.3" height="50.75" fill="#1b8172" stroke="#3d6663" stroke-opacity=".55" stroke-width=".8"/>
<line x1="555.1" y1="230" x2="555.1" y2="255" stroke="#8c4a3c" stroke-width="1.3"/>
<rect x="546.95" y="231.75" width="16.3" height="15.25" fill="#e03833" stroke="#8c4a3c" stroke-opacity=".55" stroke-width=".8"/>
<line x1="576.5" y1="239.5" x2="576.5" y2="268" stroke="#8c4a3c" stroke-width="1.3"/>
<rect x="568.39" y="247" width="16.3" height="21.00" fill="#e03833" stroke="#8c4a3c" stroke-opacity=".55" stroke-width=".8"/>
<line x1="598.0" y1="262" x2="598.0" y2="283.25" stroke="#8c4a3c" stroke-width="1.3"/>
<rect x="589.83" y="266.25" width="16.3" height="13.75" fill="#e03833" stroke="#8c4a3c" stroke-opacity=".55" stroke-width=".8"/>
<line x1="619.4" y1="262.5" x2="619.4" y2="292" stroke="#8c4a3c" stroke-width="1.3"/>
<rect x="611.27" y="284.25" width="16.3" height="7.75" fill="#e03833" stroke="#8c4a3c" stroke-opacity=".55" stroke-width=".8"/>
<line x1="640.9" y1="283.75" x2="640.9" y2="307.5" stroke="#8c4a3c" stroke-width="1.3"/>
<rect x="632.71" y="295.5" width="16.3" height="11.25" fill="#e03833" stroke="#8c4a3c" stroke-opacity=".55" stroke-width=".8"/>
<line x1="662.3" y1="295" x2="662.3" y2="320.5" stroke="#8c4a3c" stroke-width="1.3"/>
<rect x="654.15" y="306.75" width="16.3" height="12.50" fill="#e03833" stroke="#8c4a3c" stroke-opacity=".55" stroke-width=".8"/>
<line x1="683.7" y1="298" x2="683.7" y2="320.5" stroke="#3d6663" stroke-width="1.3"/>
<rect x="675.59" y="303" width="16.3" height="15.00" fill="#1b8172" stroke="#3d6663" stroke-opacity=".55" stroke-width=".8"/>
<line x1="705.2" y1="270" x2="705.2" y2="288.6" stroke="#8c5a40" stroke-width="1.3"/>
<rect x="697.03" y="287.4" width="16.3" height="1.20" fill="#9a6a50" stroke="#8c5a40" stroke-opacity=".55" stroke-width=".8"/>
<line x1="726.6" y1="280.5" x2="726.6" y2="316.25" stroke="#8c4a3c" stroke-width="1.3"/>
<rect x="718.47" y="285.5" width="16.3" height="25.50" fill="#e03833" stroke="#8c4a3c" stroke-opacity=".55" stroke-width=".8"/>
<line x1="748.1" y1="278.75" x2="748.1" y2="310" stroke="#3d6663" stroke-width="1.3"/>
<rect x="739.91" y="292" width="16.3" height="18.00" fill="#1b8172" stroke="#3d6663" stroke-opacity=".55" stroke-width=".8"/>
<line x1="769.5" y1="268" x2="769.5" y2="290" stroke="#3d6663" stroke-width="1.3"/>
<rect x="761.35" y="268.5" width="16.3" height="21.00" fill="#1b8172" stroke="#3d6663" stroke-opacity=".55" stroke-width=".8"/>
<line x1="790.9" y1="246.75" x2="790.9" y2="271.25" stroke="#3d6663" stroke-width="1.3"/>
<rect x="782.79" y="255" width="16.3" height="14.25" fill="#1b8172" stroke="#3d6663" stroke-opacity=".55" stroke-width=".8"/>
<line x1="812.4" y1="256.25" x2="812.4" y2="304.25" stroke="#8c4a3c" stroke-width="1.3"/>
<rect x="804.23" y="259.25" width="16.3" height="43.75" fill="#e03833" stroke="#8c4a3c" stroke-opacity=".55" stroke-width=".8"/>
<line x1="833.8" y1="281" x2="833.8" y2="309.5" stroke="#3d6663" stroke-width="1.3"/>
<rect x="825.67" y="281.75" width="16.3" height="16.25" fill="#1b8172" stroke="#3d6663" stroke-opacity=".55" stroke-width=".8"/>
<line x1="855.3" y1="250.6" x2="855.3" y2="282.75" stroke="#3d6663" stroke-width="1.3"/>
<rect x="847.11" y="255" width="16.3" height="27.75" fill="#1b8172" stroke="#3d6663" stroke-opacity=".55" stroke-width=".8"/>
<line x1="876.7" y1="225.6" x2="876.7" y2="274.4" stroke="#3d6663" stroke-width="1.3"/>
<rect x="868.55" y="232" width="16.3" height="28.00" fill="#1b8172" stroke="#3d6663" stroke-opacity=".55" stroke-width=".8"/>
<line x1="898.1" y1="201.9" x2="898.1" y2="233.75" stroke="#8c4a3c" stroke-width="1.3"/>
<rect x="889.99" y="224" width="16.3" height="4.10" fill="#e03833" stroke="#8c4a3c" stroke-opacity=".55" stroke-width=".8"/>
<line x1="919.6" y1="196.5" x2="919.6" y2="227.75" stroke="#4a6470" stroke-width="1.3"/>
<rect x="911.43" y="221.5" width="16.3" height="1.20" fill="#6d8a94" stroke="#4a6470" stroke-opacity=".55" stroke-width=".8"/>
<polyline points="8.5,547.00 19.1,546.75 40.5,559.50 62.0,568.50 83.4,558.25 104.9,563.50 126.3,559.00 147.7,572.00 169.2,574.50 190.6,575.00 212.1,586.00 233.5,571.25 254.9,577.00 276.4,572.50 297.8,551.75 319.3,540.50 340.7,542.50 362.1,547.50 383.6,549.25 405.0,533.00 426.5,537.50 447.9,547.50 469.3,555.00 490.8,552.50 512.2,563.75 533.7,552.00 555.1,563.75 576.5,573.75 598.0,586.75 619.4,593.25 640.9,603.25 662.3,611.25 683.7,620.00 705.2,623.25 726.6,624.00 748.1,627.00 769.5,634.25 790.9,640.75 812.4,632.00 833.8,636.25 855.3,638.25 876.7,630.50 898.1,633.50 919.6,636.50" fill="none" stroke="#92726a" stroke-width="1.8" stroke-linejoin="round"/>
<g transform="translate(919.5,509.8)"><circle r="9" fill="#fff"/><circle r="7" fill="#fff" stroke="#5e2d86" stroke-width="1.4"/><path d="M1.6,-4 L-2.8,0.9 L-0.4,0.9 L-1.6,4 L2.8,-0.9 L0.4,-0.9 Z" fill="#5a2aa6" stroke="#5a2aa6" stroke-width=".5"/><circle cx="5" cy="-5.4" r="3" fill="#fff"/><circle cx="5" cy="-5.4" r="2.1" fill="#8a3c22"/></g>
<g font-size="9.6" fill="#2b2b2b" stroke="#2b2b2b" stroke-width=".3">
<clipPath id="pc"><rect x="1145.5" y="161.5" width="60" height="520"/></clipPath><g clip-path="url(#pc)">
<text x="1151.2" y="166.0" textLength="38.5" lengthAdjust="spacingAndGlyphs">26,800.00</text>
<text x="1151.2" y="192.4" textLength="38.5" lengthAdjust="spacingAndGlyphs">26,400.00</text>
<text x="1151.2" y="245.1" textLength="38.5" lengthAdjust="spacingAndGlyphs">25,600.00</text>
<text x="1151.2" y="271.5" textLength="38.5" lengthAdjust="spacingAndGlyphs">25,200.00</text>
<text x="1151.2" y="297.9" textLength="38.5" lengthAdjust="spacingAndGlyphs">24,800.00</text>
<text x="1151.2" y="324.2" textLength="38.5" lengthAdjust="spacingAndGlyphs">24,400.00</text>
<text x="1151.2" y="350.6" textLength="38.5" lengthAdjust="spacingAndGlyphs">24,000.00</text>
<text x="1151.2" y="377.0" textLength="38.5" lengthAdjust="spacingAndGlyphs">23,600.00</text>
<text x="1151.2" y="403.4" textLength="38.5" lengthAdjust="spacingAndGlyphs">23,200.00</text>
<text x="1151.2" y="429.7" textLength="38.5" lengthAdjust="spacingAndGlyphs">22,800.00</text>
<text x="1151.2" y="456.1" textLength="38.5" lengthAdjust="spacingAndGlyphs">22,400.00</text>
<text x="1151.2" y="482.5" textLength="38.5" lengthAdjust="spacingAndGlyphs">22,000.00</text>
<text x="1151.2" y="508.8" textLength="38.5" lengthAdjust="spacingAndGlyphs">21,600.00</text>
</g>
<text x="1151.2" y="534.8" textLength="26" lengthAdjust="spacingAndGlyphs">720.00</text>
<text x="1151.2" y="557.8" textLength="26" lengthAdjust="spacingAndGlyphs">680.00</text>
<text x="1151.2" y="580.8" textLength="26" lengthAdjust="spacingAndGlyphs">640.00</text>
<text x="1151.2" y="603.8" textLength="26" lengthAdjust="spacingAndGlyphs">600.00</text>
<text x="1151.2" y="626.8" textLength="26" lengthAdjust="spacingAndGlyphs">560.00</text>
<text x="1151.2" y="649.8" textLength="26" lengthAdjust="spacingAndGlyphs">520.00</text>
</g>
<rect x="1145.5" y="203.7" width="46.5" height="12.200000000000017" rx="1" fill="#d4343a"/>
<text x="1151.2" y="212.4" font-size="9.6" fill="#fff" stroke="#fff" stroke-width=".3" textLength="38.5" lengthAdjust="spacingAndGlyphs">26,017.80</text>
<rect x="1145.5" y="216.2" width="46.5" height="12.100000000000023" rx="1" fill="#227a6d"/>
<text x="1151.2" y="224.8" font-size="9.6" fill="#fff" stroke="#fff" stroke-width=".3" textLength="38.5" lengthAdjust="spacingAndGlyphs">25,907.10</text>
<rect x="1145.5" y="267" width="46.5" height="12.300000000000011" rx="1" fill="#2438f2"/>
<text x="1151.2" y="275.8" font-size="9.6" fill="#fff" stroke="#fff" stroke-width=".3" textLength="38.5" lengthAdjust="spacingAndGlyphs">25,138.95</text>
<rect x="1145.5" y="325" width="46.5" height="12.199999999999989" rx="1" fill="#146b58"/>
<text x="1151.2" y="333.7" font-size="9.6" fill="#fff" stroke="#fff" stroke-width=".3" textLength="38.5" lengthAdjust="spacingAndGlyphs">24,260.09</text>
<rect x="1145.5" y="631.2" width="35.5" height="12.099999999999909" rx="1" fill="#861a14"/>
<text x="1151.2" y="639.9" font-size="9.6" fill="#fff" stroke="#fff" stroke-width=".3" textLength="26" lengthAdjust="spacingAndGlyphs">537.20</text>
<g font-size="9.2" fill="#2b2b2b" text-anchor="middle" stroke="#2b2b2b" stroke-width=".3">
<text x="19.1" y="666.2" font-weight="bold">2025</text>
<text x="62.0" y="666.2">20</text>
<text x="104.9" y="666.2">Feb</text>
<text x="147.7" y="666.2">17</text>
<text x="190.6" y="666.2">Mar</text>
<text x="233.5" y="666.2">17</text>
<text x="276.4" y="666.2">Apr</text>
<text x="319.3" y="666.2">15</text>
<text x="383.6" y="666.2">May</text>
<text x="426.5" y="666.2">19</text>
<text x="469.3" y="666.2">Jun</text>
<text x="512.2" y="666.2">16</text>
<text x="576.5" y="666.2">Jul</text>
<text x="619.4" y="666.2">21</text>
<text x="662.3" y="666.2">Aug</text>
<text x="705.2" y="666.2">18</text>
<text x="748.1" y="666.2">Sep</text>
<text x="790.9" y="666.2">15</text>
<text x="855.3" y="666.2">Oct</text>
<text x="898.1" y="666.2">20</text>
<text x="941.0" y="666.2">Nov</text>
<text x="983.9" y="666.2">17</text>
<text x="1026.8" y="666.2">Dec</text>
<text x="1069.7" y="666.2">15</text>
<text x="1112.5" y="666.2">29</text>
</g>
<text x="8" y="155.6" font-size="8.6" fill="#2a2a2a" stroke="#2a2a2a" stroke-width=".3" textLength="254" lengthAdjust="spacingAndGlyphs">ckn created with TradingView.com, Oct 31, 2025 17:40 UTC+5:30</text>
<g font-size="8.4" fill="#333" stroke="#333" stroke-width=".3">
<text x="13.8" y="174.8" textLength="163.7" lengthAdjust="spacingAndGlyphs">S&amp;P CNX NIFTY INDEX FUTURES · 1W · NSE</text>
<text x="184.5" y="174.8" textLength="43.5" lengthAdjust="spacingAndGlyphs">O25,901.00</text>
<text x="233.8" y="174.8" textLength="43.2" lengthAdjust="spacingAndGlyphs">H26,284.90</text>
<text x="283.2" y="174.8" textLength="41.8" lengthAdjust="spacingAndGlyphs">L25,820.00</text>
<text x="331.2" y="174.8" textLength="43.3" lengthAdjust="spacingAndGlyphs">C25,907.10</text>
<text x="380" y="174.8" textLength="60.8" lengthAdjust="spacingAndGlyphs">+92.30 (+0.36%)</text>
</g>
<rect x="0" y="143" width="1.7" height="566" fill="#111"/>
<g fill="#151515"><path d="M9.4,689.4 h9.4 v10.6 h-4.6 v-6.4 h-4.8 z"/><circle cx="21.9" cy="691.5" r="2.15"/><path d="M25.6,689.4 h5.2 l-4.6,10.6 h-5.2 z"/></g>
<text x="36.6" y="700" font-size="15.2" font-weight="bold" fill="#151515" stroke="#151515" stroke-width=".45" textLength="87.4" lengthAdjust="spacingAndGlyphs">TradingView</text>
</svg>
<div id="source"><span id="s1">Source: </span><span id="s2">CK </span><span id="s3">Narayan</span></div>
<div id="ndtv">NDTV</div><div id="sep"></div><div id="dot"></div><div id="profit">Profit</div>
</body></html>
